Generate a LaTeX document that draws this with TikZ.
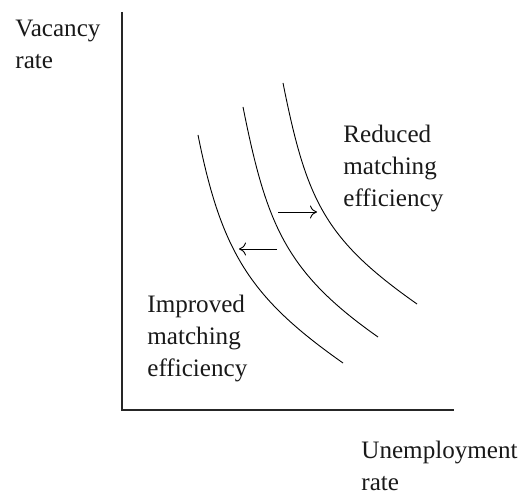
\documentclass[tikz,border=0pt]{standalone}
\usepackage{fontspec}
\setmainfont{Liberation Serif}
\usetikzlibrary{arrows.meta}

\tikzset{
    axis/.style={line width=0.7pt, black!85},
    curve/.style={line width=0.45pt, black},
    movearrow/.style={line width=0.45pt, black, -{To[length=3.5pt,width=6.5pt]}},
    lbl/.style={anchor=north west, align=left, inner sep=0pt, text=black!90,
        font={\fontsize{12.6}{15.9}\selectfont}}
}

\begin{document}
\begin{tikzpicture}[x=0.5bp, y=0.5bp]
    \useasboundingbox (-122,-84) rectangle (405,410);
    % axes
    \coordinate (O) at (0,0);
    \coordinate (ytop) at (0,398);
    \coordinate (xend) at (332,0);
    \draw[axis] (ytop) -- (O) -- (xend);
    % Beveridge curves
    \foreach \a/\b/\c/\d in {76/275/221/47, 121/303/256/73, 161/327/295/106}{
        \draw[curve] (\a,\b) .. controls +(23.5,-117.6) and +(-92.5,65) .. (\c,\d);
    }
    % shifts
    \coordinate (R1) at (156,198);
    \coordinate (R2) at (195,198);
    \coordinate (L1) at (155,161);
    \coordinate (L2) at (117,161);
    \draw[movearrow] (R1) -- (R2);
    \draw[movearrow] (L1) -- (L2);
    % labels
    \node (V) at (-107,390)[lbl]{Vacancy\\rate};
    \node (Red) at (221,285)[lbl]{Reduced\\matching\\efficiency};
    \node (Imp) at (25,115)[lbl]{Improved\\matching\\efficiency};
    \node (U) at (239,-31)[lbl]{Unemployment\\rate};
\end{tikzpicture}
\end{document}
